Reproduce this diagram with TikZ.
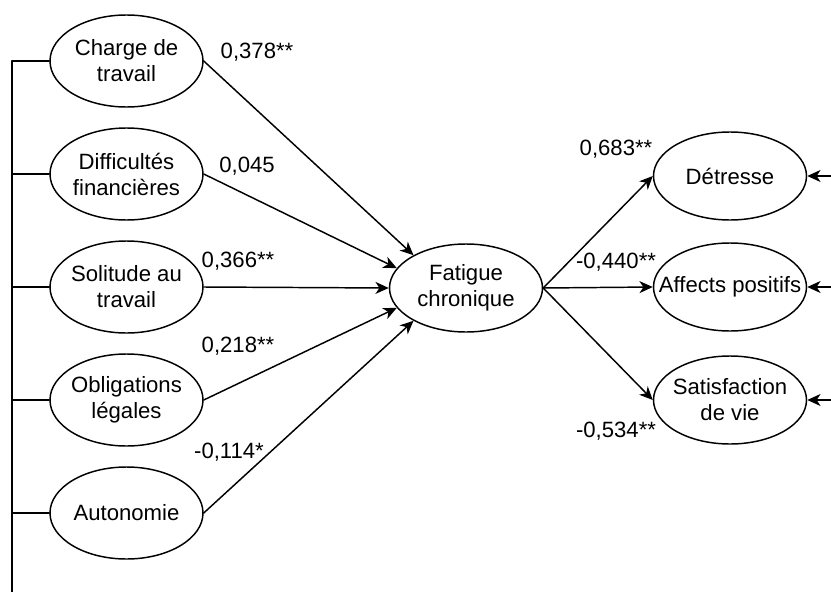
\documentclass[tikz,border=0pt]{standalone}
\usepackage{fontspec}
\setmainfont{Liberation Sans}
\usetikzlibrary{shapes.geometric,arrows.meta}

% riga di testo a larghezza nulla: l'ellisse non si allarga col testo
\newcommand{\riga}[1]{\makebox[0pt]{#1}}

\begin{document}
\begin{tikzpicture}[x=0.75pt,y=-0.75pt,line join=round,line cap=round,
    font=\fontsize{16.6}{19.5}\selectfont,
    var/.style={ellipse,draw,line width=1.1pt,inner sep=0pt,align=center,
      minimum width=114.75pt,minimum height=69pt},
    varb/.style={var,minimum height=66pt},
    freccia/.style={line width=1.1pt,-{Stealth[length=10pt,width=9pt,inset=3pt]}},
    coeff/.style={inner sep=0pt}]

  \useasboundingbox (0,0) rectangle (831,592);

  % ---- variabili a sinistra ------------------------------------------------
  \node[var] (charge) at (126.5, 61) {\riga{Charge de}\\\riga{travail}};
  \node[var] (diff)   at (126.5,174) {\riga{Difficultés}\\\riga{financières}};
  \node[var] (solit)  at (126.5,287) {\riga{Solitude au}\\\riga{travail}};
  \node[var] (oblig)  at (126.5,400) {\riga{Obligations}\\\riga{légales}};
  \node[var] (auton)  at (126.5,513) {\riga{Autonomie}};

  % ---- mediatore e variabili a destra --------------------------------------
  \node[varb] (fatigue)  at (466,288) {\riga{Fatigue}\\\riga{chronique}};
  \node[varb] (detresse) at (730,176) {\riga{Détresse}};
  \node[varb] (affects)  at (730,287) {\riga{Affects positifs}};
  \node[varb] (satisf)   at (730,400) {\riga{Satisfaction}\\\riga{de vie}};

  % ---- linea di raccordo a sinistra ----------------------------------------
  \coordinate (fondo) at (12,592);
  \draw[line width=1.1pt] (charge.west) -| (fondo);
  \draw[line width=1.1pt] (diff.west) -- (diff.west -| fondo);
  \draw[line width=1.1pt] (solit.west) -- (solit.west -| fondo);
  \draw[line width=1.1pt] (oblig.west) -- (oblig.west -| fondo);
  \draw[line width=1.1pt] (auton.west) -- (auton.west -| fondo);

  % ---- percorsi verso la fatica --------------------------------------------
  \draw[freccia] (charge.east) -- (fatigue.148);
  \draw[freccia] (diff.east)   -- (fatigue.164);
  \draw[freccia] (solit.east)  -- (fatigue.180);
  \draw[freccia] (oblig.east)  -- (fatigue.196);
  \draw[freccia] (auton.east)  -- (fatigue.212);

  \draw[freccia] (fatigue.east) -- (detresse.west);
  \draw[freccia] (fatigue.east) -- (affects.west);
  \draw[freccia] (fatigue.east) -- (satisf.west);

  % frecce brevi dal bordo destro
  \coordinate (bd1) at (831,176);
  \coordinate (bd2) at (831,287);
  \coordinate (bd3) at (831,400);
  \draw[freccia] (bd1) -- (detresse.east);
  \draw[freccia] (bd2) -- (affects.east);
  \draw[freccia] (bd3) -- (satisf.east);

  % ---- coefficienti ---------------------------------------------------------
  \node[coeff] (c378) at (257, 52) {0,378**};
  \node[coeff] (c045) at (247,166) {0,045};
  \node[coeff] (c366) at (238,261) {0,366**};
  \node[coeff] (c218) at (238,346) {0,218**};
  \node[coeff] (c114) at (229,452) {-0,114*};
  \node[coeff] (c683) at (616,149) {0,683**};
  \node[coeff] (c440) at (616,262) {-0,440**};
  \node[coeff] (c534) at (616,431) {-0,534**};

\end{tikzpicture}
\end{document}
